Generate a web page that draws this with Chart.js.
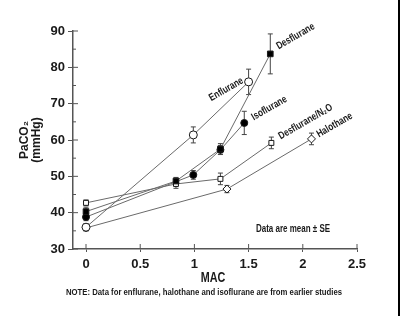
<!DOCTYPE html>
<html>
<head>
<meta charset="utf-8">
<script src="https://cdn.jsdelivr.net/npm/chart.js@4.4.1/dist/chart.umd.min.js"></script>
<style>
  html, body { margin: 0; padding: 0; background: #fff; }
  #wrap { position: relative; width: 400px; height: 316px; }
  #edge { position: absolute; left: 398px; top: 0; width: 2px; height: 316px; background: #000; }
</style>
</head>
<body>
<div id="wrap">
  <canvas id="macChart" width="400" height="316"></canvas>
  <div id="edge"></div>
</div>
<script>
// Data (MAC vs PaCO2, mean and SE)
const desfluraneMac = [0, 0.83, 1.24, 1.7];
const desfluranePaco2 = [40.3, 48.7, 57.5, 83.7];
const desfluraneSe = [1.2, 1.0, 1.5, 5.5];

const enfluraneMac = [0, 0.99, 1.5];
const enfluranePaco2 = [36.0, 61.4, 76.0];
const enfluraneSe = [1.0, 2.2, 3.5];

const isofluraneMac = [0, 0.99, 1.24, 1.46];
const isofluranePaco2 = [38.8, 50.4, 57.3, 64.7];
const isofluraneSe = [1.0, 1.2, 1.2, 3.2];

const desN2oMac = [0, 0.83, 1.24, 1.71];
const desN2oPaco2 = [42.7, 47.9, 49.3, 59.2];
const desN2oSe = [0.8, 1.2, 1.6, 1.6];

const halothaneMac = [0, 1.3, 2.08];
const halothanePaco2 = [35.8, 46.5, 60.3];
const halothaneSe = [0.8, 1.0, 1.6];

const xTicks = [0, 0.5, 1, 1.5, 2, 2.5];
const yTicks = [30, 40, 50, 60, 70, 80, 90];

const FONT = "'Liberation Sans', Arial, sans-serif";
const LINE = '#6a6a6a';
const INK = '#1a1a1a';

function toPoints(xs, ys) {
    return xs.map((x, i) => ({ x: x, y: ys[i] }));
}

function series(label, xs, ys, se, style, labelOpts) {
    return Object.assign({
        label: label,
        data: toPoints(xs, ys),
        se: se,
        tag: labelOpts,
        showLine: true,
        borderColor: LINE,
        borderWidth: 1,
        pointBorderColor: INK,
        pointBorderWidth: 1,
        pointHoverRadius: 0
    }, style);
}

const datasets = [
    series('Desflurane', desfluraneMac, desfluranePaco2, desfluraneSe,
        { pointStyle: 'rect', pointRadius: 4, pointBackgroundColor: '#000', order: 1 },
        { dx: 7, dy: -7, align: 'left' }),
    series('Isoflurane', isofluraneMac, isofluranePaco2, isofluraneSe,
        { pointStyle: 'circle', pointRadius: 3.5, pointBackgroundColor: '#000', order: 2 },
        { dx: 8, dy: -5, align: 'left' }),
    series('Enflurane', enfluraneMac, enfluranePaco2, enfluraneSe,
        { pointStyle: 'circle', pointRadius: 4, pointBackgroundColor: '#fff', order: 3 },
        { dx: -6, dy: -2, align: 'right' }),
    series('Desflurane/N\u2082O', desN2oMac, desN2oPaco2, desN2oSe,
        { pointStyle: 'rect', pointRadius: 3.5, pointBackgroundColor: '#fff', order: 4 },
        { dx: 8, dy: -6, align: 'left' }),
    series('Halothane', halothaneMac, halothanePaco2, halothaneSe,
        { pointStyle: 'rectRot', pointRadius: 4, pointBackgroundColor: '#fff', order: 5 },
        { dx: 6, dy: -4, align: 'left' })
];

// narrow text: squeeze horizontally to mimic the condensed face of the original
function narrowText(ctx, text, x, y, opts) {
    ctx.save();
    ctx.translate(x, y);
    if (opts.angle) ctx.rotate(opts.angle);
    ctx.scale(opts.squeeze || 0.8, 1);
    ctx.font = opts.font;
    ctx.textAlign = opts.align || 'center';
    ctx.textBaseline = 'middle';
    ctx.fillText(text, 0, 0);
    ctx.restore();
}

// error bars, axis inner ticks and the text notes
const extras = {
    id: 'extras',
    beforeDatasetsDraw(chart) {
        const { ctx, scales: { x, y } } = chart;
        ctx.save();
        ctx.strokeStyle = '#444';
        ctx.lineWidth = 1;
        chart.data.datasets.forEach(ds => {
            ds.data.forEach((p, i) => {
                const px = x.getPixelForValue(p.x);
                const top = y.getPixelForValue(p.y + ds.se[i]);
                const bot = y.getPixelForValue(p.y - ds.se[i]);
                ctx.beginPath();
                ctx.moveTo(px, top); ctx.lineTo(px, bot);
                ctx.moveTo(px - 2.5, top); ctx.lineTo(px + 2.5, top);
                ctx.moveTo(px - 2.5, bot); ctx.lineTo(px + 2.5, bot);
                ctx.stroke();
            });
        });
        // ticks on the inside of both axes
        ctx.strokeStyle = '#555';
        const ax = chart.chartArea.left;
        const ay = chart.chartArea.bottom;
        yTicks.forEach((v, i) => {
            const py = y.getPixelForValue(v);
            ctx.beginPath(); ctx.moveTo(ax, py); ctx.lineTo(ax + 5, py); ctx.stroke();
            if (i < yTicks.length - 1) {
                const my = y.getPixelForValue(v + 5);
                ctx.beginPath(); ctx.moveTo(ax, my); ctx.lineTo(ax + 3, my); ctx.stroke();
            }
        });
        xTicks.forEach(v => {
            const px = x.getPixelForValue(v);
            ctx.beginPath(); ctx.moveTo(px, ay); ctx.lineTo(px, ay - 5); ctx.stroke();
        });
        ctx.restore();
    },
    afterDatasetsDraw(chart) {
        const { ctx, scales: { x, y } } = chart;
        ctx.save();
        ctx.fillStyle = INK;
        chart.data.datasets.forEach(ds => {
            const last = ds.data[ds.data.length - 1];
            const px = x.getPixelForValue(last.x) + ds.tag.dx;
            const py = y.getPixelForValue(last.y) + ds.tag.dy;
            narrowText(ctx, ds.label, px, py, {
                font: 'bold 10.5px ' + FONT, angle: -Math.PI / 6, align: ds.tag.align, squeeze: 0.78
            });
        });
        narrowText(ctx, 'Data are mean \u00b1 SE', 293, 229, { font: 'bold 10px ' + FONT, squeeze: 0.8 });
        narrowText(ctx, 'MAC', (chart.chartArea.left + chart.chartArea.right) / 2 - 2, 278,
            { font: 'bold 15px ' + FONT, squeeze: 0.72 });
        narrowText(ctx, 'NOTE: Data for enflurane, halothane and isoflurane are from earlier studies', 204, 293,
            { font: 'bold 9px ' + FONT, squeeze: 0.86 });
        ctx.restore();
    }
};

const ctx = document.getElementById('macChart').getContext('2d');
const macChart = new Chart(ctx, {
    type: 'scatter',
    data: { datasets: datasets },
    options: {
        responsive: false,
        animation: false,
        devicePixelRatio: 1,
        layout: { padding: { top: 31, right: 43, left: 0, bottom: 0 } },
        plugins: {
            legend: { display: false },
            tooltip: { enabled: false }
        },
        scales: {
            x: {
                type: 'linear',
                min: -0.12,
                max: 2.5,
                afterBuildTicks: s => { s.ticks = xTicks.map(v => ({ value: v })); },
                afterFit: s => { s.height = 67; },
                grid: { drawOnChartArea: false, tickLength: 3, color: '#555' },
                border: { color: '#555', width: 1.5 },
                ticks: {
                    padding: 5,
                    color: INK,
                    font: { family: FONT, size: 13, weight: 'bold' },
                    callback: v => String(v)
                }
            },
            y: {
                type: 'linear',
                min: 30,
                max: 90,
                afterBuildTicks: s => { s.ticks = yTicks.map(v => ({ value: v })); },
                afterFit: s => { s.width = 73; },
                grid: { drawOnChartArea: false, tickLength: 5, color: '#555' },
                border: { color: '#555', width: 1.5 },
                ticks: {
                    padding: 3,
                    color: INK,
                    font: { family: FONT, size: 13, weight: 'bold' }
                },
                title: {
                    display: true,
                    text: ['PaCO\u2082', '(mmHg)'],
                    color: INK,
                    font: { family: FONT, size: 12, weight: 'bold', lineHeight: 1 },
                    padding: { top: 19, bottom: 0 }
                }
            }
        }
    },
    plugins: [extras]
});
</script>
</body>
</html>
